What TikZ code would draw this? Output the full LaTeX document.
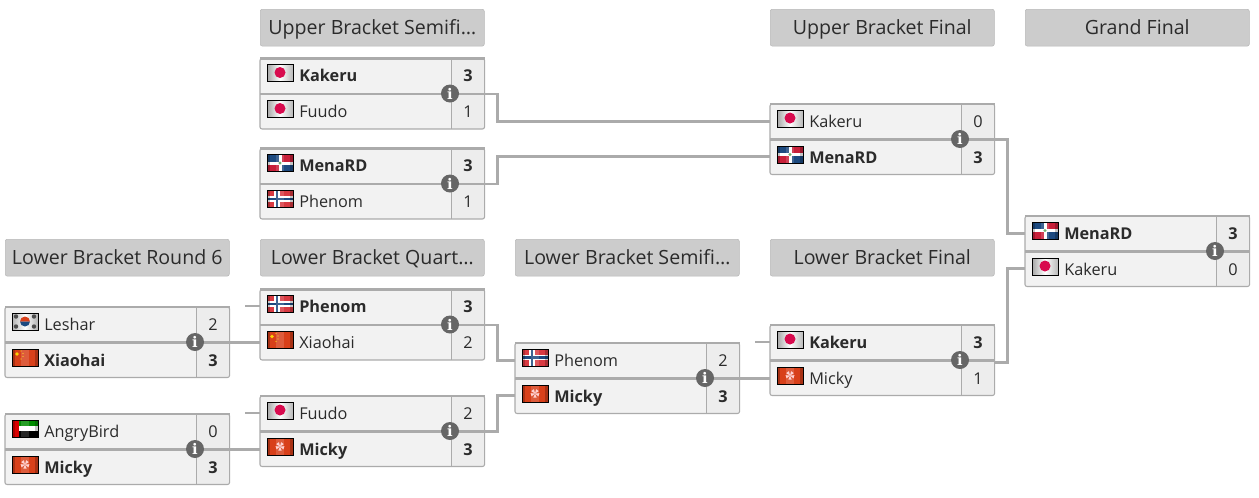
\documentclass[tikz,border=0pt]{standalone}
\usepackage{fontspec}
\setmainfont{Open Sans}
\newfontfamily\infofont{DejaVu Serif}

\definecolor{linegray}{HTML}{ABABAB}
\definecolor{rowgray}{HTML}{F2F2F2}
\definecolor{scoregray}{HTML}{EDEDED}
\definecolor{headgray}{HTML}{CCCCCC}
\definecolor{headline}{HTML}{B8B8B8}
\definecolor{infogray}{HTML}{666666}
\definecolor{textgray}{HTML}{2B2B2B}
\definecolor{flagred}{HTML}{D8401A}
\definecolor{flagblue}{HTML}{1D4A80}
\definecolor{domred}{HTML}{C8203A}
\definecolor{norred}{HTML}{D83A42}
\definecolor{jpred}{HTML}{D80B4E}

\tikzset{
  headbox/.style={anchor=north west,draw=headline,fill=headgray,rounded corners=1.5pt,
    minimum width=168pt,minimum height=27.6pt,inner sep=0pt,text height=13.2pt,text depth=3.2pt,
    text=textgray,font=\fontsize{14.7}{18}\selectfont},
  rowbox/.style={anchor=north west,fill=rowgray,minimum width=168pt,minimum height=26.2pt,inner sep=0pt},
  scorebox/.style={anchor=north east,fill=scoregray,minimum width=24.6pt,minimum height=26.2pt,inner sep=0pt},
  namelabel/.style={anchor=base west,inner sep=0pt,text=textgray,font=\fontsize{12.2}{14}\selectfont},
  scorelabel/.style={anchor=base,inner sep=0pt,text=textgray,font=\fontsize{12.2}{14}\selectfont},
  infodot/.style={circle,fill=infogray,minimum size=13.5pt,inner sep=0pt,text=white,font=\infofont\bfseries\fontsize{11}{11}\selectfont},
  boxline/.style={draw=linegray,line width=0.8pt},
  heavyline/.style={draw=linegray,line width=2.2pt},
  bracketline/.style={draw=linegray,line width=2.2pt},
}

% Gloss and dark edge on top of a flag
\newcommand\flagedge{%
  \fill[black,opacity=0.22] (0,0) rectangle (3,17);
  \fill[black,opacity=0.22] (23,0) rectangle (26,17);
  \fill[white,opacity=0.15] (9,0) rectangle (17,17);
  \draw[black,line width=0.5pt] (0,0) rectangle (26,17);}

% Flags, drawn in a 26 x 17 box
\newcommand\flagjp{%
  \shade[left color=gray!70,right color=gray!55,middle color=white] (0,0) rectangle (26,17);
  \fill[jpred] (13,8) circle (5.5);
  \draw[black,line width=0.5pt] (0,0) rectangle (26,17);}
\newcommand\flagdo{%
  \fill[white] (0,0) rectangle (26,17);
  \fill[flagblue] (0,0) rectangle (11.5,7);
  \fill[domred] (14.5,0) rectangle (26,7);
  \fill[domred] (0,10) rectangle (11.5,17);
  \fill[flagblue] (14.5,10) rectangle (26,17);
  \fill[green!30!gray] (13,8.5) circle (1.6);
  \flagedge}
\newcommand\flagno{%
  \fill[norred] (0,0) rectangle (26,17);
  \fill[white] (7,0) rectangle (12.5,17);
  \fill[white] (0,5.8) rectangle (26,11.2);
  \fill[flagblue] (8.5,0) rectangle (11,17);
  \fill[flagblue] (0,7.3) rectangle (26,9.7);
  \flagedge}
\newcommand\flagkr{%
  \shade[left color=gray!60,right color=gray!60,middle color=white] (0,0) rectangle (26,17);
  \fill[flagred] (8,8.5) arc (180:360:5 and 5) -- cycle;
  \fill[flagblue] (8,8.5) arc (180:0:5 and 5) -- cycle;
  \foreach \bx/\by in {4/3.5,22/3.5,4/13.5,22/13.5}{\fill[black!70] (\bx,\by) circle (2.2);}
  \draw[black,line width=0.5pt] (0,0) rectangle (26,17);}
\newcommand\flagcn{%
  \fill[flagred] (0,0) rectangle (26,17);
  \fill[yellow!70!orange] (5,5) circle (1.8);
  \foreach \sx/\sy in {9/2,11/4.5,11/7.5,9/10}{\fill[yellow!70!orange] (\sx,\sy) circle (0.6);}
  \flagedge}
\newcommand\flagae{%
  \fill[green!55!black] (0,0) rectangle (26,5.7);
  \fill[white] (0,5.7) rectangle (26,11.3);
  \fill[black] (0,11.3) rectangle (26,17);
  \fill[red!85!black] (0,0) rectangle (6.5,17);
  \flagedge}
\newcommand\flaghk{%
  \fill[flagred] (0,0) rectangle (26,17);
  \foreach \pa in {90,162,234,306,18}{\fill[red!20!white] (13,8.5) -- ++(\pa-22:4.5) arc (\pa-22:\pa+22:4.5) -- cycle;}
  \flagedge}

% One match: name, left, top, flag, player, score, flag, player, score
\newcommand\matchbox[9]{%
  \node[rowbox] (#1-a) at (#2,#3+1) {};
  \node[rowbox] (#1-b) at (#2,#3+36) {};
  \node[scorebox] (#1-as) at (#1-a.north east) {};
  \node[scorebox] (#1-bs) at (#1-b.north east) {};
  \begin{scope}[shift={(#2+7,#3+7)}]#4\end{scope}
  \begin{scope}[shift={(#2+7,#3+43)}]#7\end{scope}
  \node[namelabel] (#1-an) at (#2+39,#3+24) {#5};
  \node[namelabel] (#1-bn) at (#2+39,#3+60) {#8};
  \node[scorelabel] (#1-av) at (#2+208,#3+24) {#6};
  \node[scorelabel] (#1-bv) at (#2+208,#3+60) {#9};
  \draw[boxline,rounded corners=1.5pt] (#1-a.north west) rectangle (#1-b.south east);
  \draw[boxline] (#1-as.north west) -- (#1-bs.south west);
  \draw[heavyline] (#1-a.north west) -- (#1-a.north east);
  \draw[heavyline] (#1-a.south west) -- (#1-a.south east);
  \node[infodot] (#1-i) at (#2+190,#3+36) {i};
}

\begin{document}
\begin{tikzpicture}[x=0.75pt,y=-0.75pt]
\useasboundingbox (0,0) rectangle (1259,497);

% Round headers
\node[headbox] (hubs) at (260,9) {Upper Bracket Semifi…};
\node[headbox] (hubf) at (770,9) {Upper Bracket Final};
\node[headbox] (hgf) at (1025,9) {Grand Final};
\node[headbox] (hlr) at (5,239) {Lower Bracket Round 6};
\node[headbox] (hlq) at (260,239) {Lower Bracket Quart…};
\node[headbox] (hls) at (515,239) {Lower Bracket Semifi…};
\node[headbox] (hlf) at (770,239) {Lower Bracket Final};

% Upper bracket
\matchbox{ubsa}{260}{57.5}{\flagjp}{\textbf{Kakeru}}{\textbf{3}}{\flagjp}{Fuudo}{1}
\matchbox{ubsb}{260}{147.5}{\flagdo}{\textbf{MenaRD}}{\textbf{3}}{\flagno}{Phenom}{1}
\matchbox{ubf}{770}{103}{\flagjp}{Kakeru}{0}{\flagdo}{\textbf{MenaRD}}{\textbf{3}}
\matchbox{gf}{1025}{215}{\flagdo}{\textbf{MenaRD}}{\textbf{3}}{\flagjp}{Kakeru}{0}

% Lower bracket
\matchbox{lra}{5}{306}{\flagkr}{Leshar}{2}{\flagcn}{\textbf{Xiaohai}}{\textbf{3}}
\matchbox{lrb}{5}{413}{\flagae}{AngryBird}{0}{\flaghk}{\textbf{Micky}}{\textbf{3}}
\matchbox{lqa}{260}{288.5}{\flagno}{\textbf{Phenom}}{\textbf{3}}{\flagcn}{Xiaohai}{2}
\matchbox{lqb}{260}{395}{\flagjp}{Fuudo}{2}{\flaghk}{\textbf{Micky}}{\textbf{3}}
\matchbox{lsf}{515}{342}{\flagno}{Phenom}{2}{\flaghk}{\textbf{Micky}}{\textbf{3}}
\matchbox{lf}{770}{324}{\flagjp}{\textbf{Kakeru}}{\textbf{3}}{\flaghk}{Micky}{1}

% Connectors
\draw[bracketline] (ubsa-a.south east) -- ++(13,0) |- (ubf-a.west);
\draw[bracketline] (ubsb-a.south east) -- ++(13,0) |- (ubf-b.west);
\draw[bracketline] (ubf-a.south east) -- ++(13,0) |- (gf-a.west);
\draw[bracketline] (lf-a.south east) ++(0,2) -- ++(13,0) |- (gf-b.west);
\draw[bracketline] (lqa-a.south east) -- ++(13,0) |- (lsf-a.west);
\draw[bracketline] (lqb-a.south east) -- ++(13,0) |- (lsf-b.west);
\draw[bracketline] (lsf-a.south east) -- (lsf-a.south east -| lf-b.west);
\draw[bracketline] (lra-a.south east) -- (lra-a.south east -| lqa-b.west);
\draw[bracketline] (lrb-a.south east) -- (lrb-a.south east -| lqb-b.west);

% Stubs with a free end
\coordinate (stublq) at (245,306);
\coordinate (stublqb) at (245,413);
\coordinate (stublf) at (755,342);
\draw[bracketline] (stublq) -- (stublq -| lqa-a.west);
\draw[bracketline] (stublqb) -- (stublqb -| lqb-a.west);
\draw[bracketline] (stublf) -- (stublf -| lf-a.west);
\end{tikzpicture}
\end{document}
